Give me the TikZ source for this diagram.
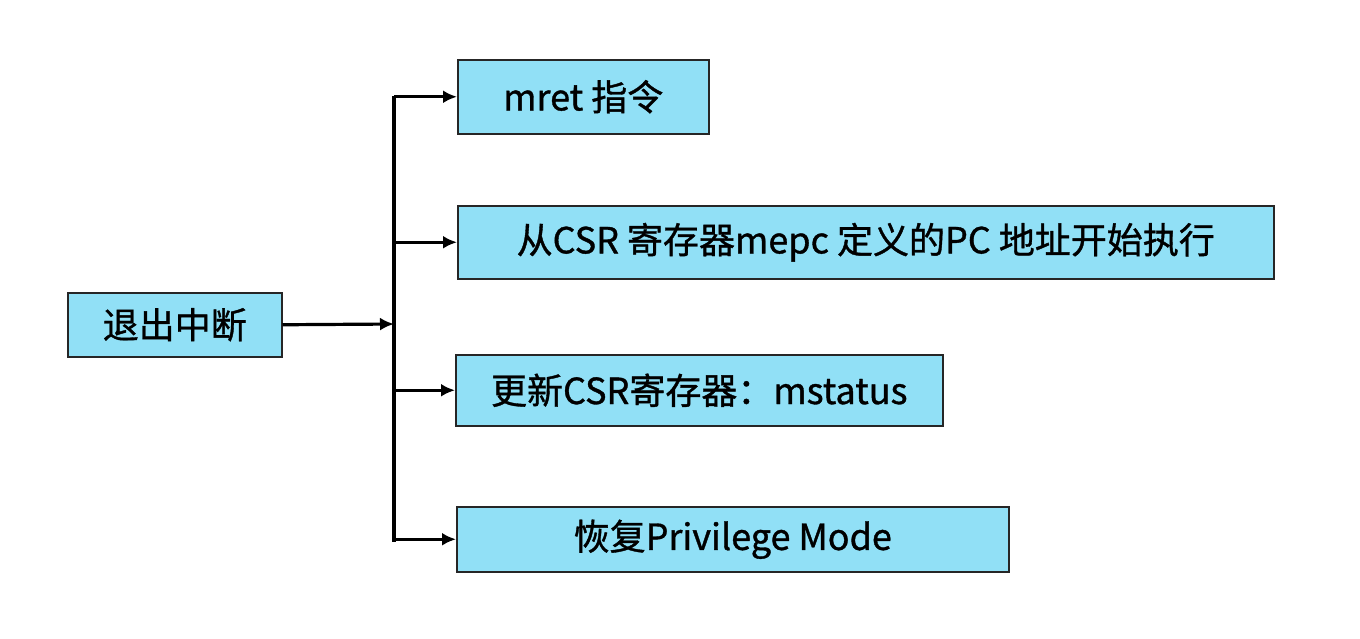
\documentclass[tikz,border=0pt]{standalone}
\usepackage{fontspec}
\setmainfont{Noto Sans CJK SC}[FakeBold=1.0]
\usetikzlibrary{arrows.meta}
\definecolor{boxblue}{RGB}{145,224,246}
\tikzset{
  x=1pt,y=-1pt,
  box/.style={draw=black!85,line width=1.5pt,fill=boxblue,rectangle,inner sep=0pt,anchor=north west,font=\fontsize{36}{40}\selectfont},
  conn/.style={line width=3.2pt,-{Latex[length=14pt,width=13pt]}},
}
\begin{document}
\begin{tikzpicture}
\useasboundingbox (0,0) rectangle (1360,638);
\node[box,minimum width=214pt,minimum height=64pt] (root) at (67,292) {退出中断};
\node[box,minimum width=251pt,minimum height=74pt] (b1) at (457,59) {mret 指令};
\node[box,minimum width=816pt,minimum height=73pt] (b2) at (457,205) {从CSR 寄存器mepc 定义的PC 地址开始执行};
\node[box,minimum width=487pt,minimum height=71pt] (b3) at (455,354) {更新CSR寄存器：mstatus};
\node[box,minimum width=552pt,minimum height=65pt] (b4) at (456,506) {恢复Privilege Mode};
\coordinate (j) at (394,324);
\draw[line width=3.2pt] (394,96) -- (394,542);
\draw[conn] (root.east) -- (j);
\draw[conn] (b1.west -| j) -- (b1.west);
\draw[conn] (b2.west -| j) -- (b2.west);
\draw[conn] (b3.west -| j) -- (b3.west);
\draw[conn] (b4.west -| j) -- (b4.west);
\end{tikzpicture}
\end{document}
